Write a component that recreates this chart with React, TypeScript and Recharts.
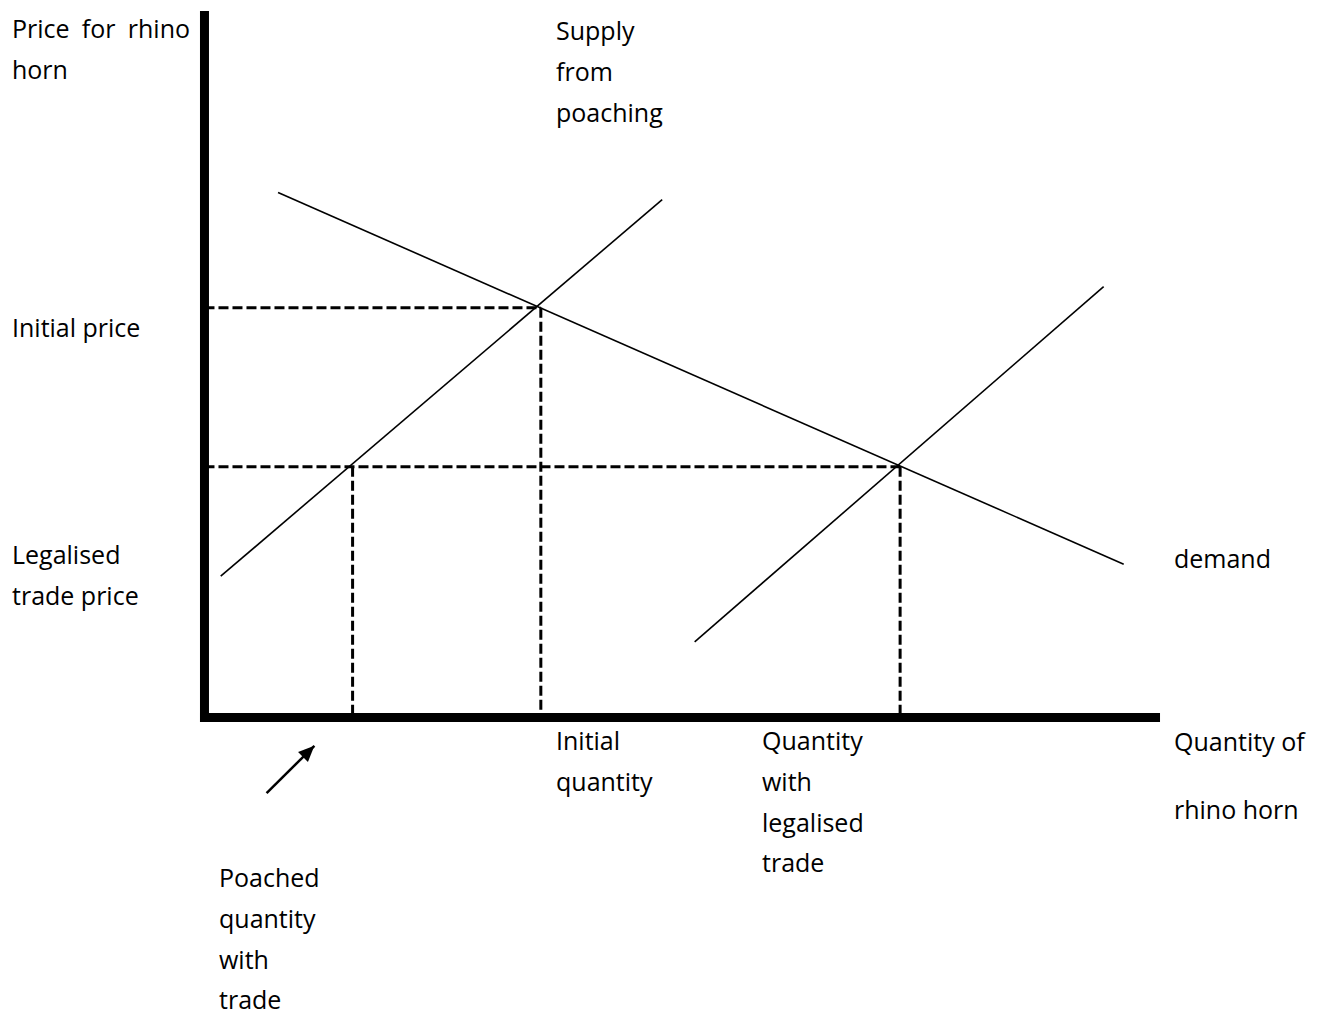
import React from 'react';
import { ComposedChart, Line, XAxis, YAxis, ReferenceLine } from 'recharts';

// ---- data (abstract quantity / price units, origin at the axes) ----
const demandQ = [7.7, 96.2];
const demandP = [74.3, 21.7];
const poachSupplyQ = [1.7, 47.9];
const poachSupplyP = [20.0, 73.3];
const legalSupplyQ = [51.3, 94.1];
const legalSupplyP = [10.7, 61.0];

const initialQuantity = 35.2;
const initialPrice = 58.0;
const legalisedQuantity = 72.8;
const legalisedPrice = 35.5;
const poachedQuantity = 15.5;

const arrowQ = [6.5, 11.5];
const arrowP = [-10.7, -4.0];

const axisMaxQ = 100;
const axisMaxP = 100;

const X_DOMAIN: [number, number] = [-21.4, 117.58];
const Y_DOMAIN: [number, number] = [-42.25, 101.56];

const W = 1328;
const H = 1016;

const toPts = (qs: number[], ps: number[]) => qs.map((q, i) => ({ q, p: ps[i] }));

const demand = toPts(demandQ, demandP);
const poachSupply = toPts(poachSupplyQ, poachSupplyP);
const legalSupply = toPts(legalSupplyQ, legalSupplyP);
const arrow = toPts(arrowQ, arrowP);

const FONT = '"Open Sans", sans-serif';

const labelStyle: React.CSSProperties = {
  position: 'absolute',
  fontFamily: FONT,
  fontSize: 25,
  lineHeight: '40.8px',
  color: '#000',
  whiteSpace: 'nowrap',
};

const ArrowHead = (props: any) => {
  const { cx, cy, index } = props;
  if (index !== arrow.length - 1 || cx == null) return <g key={`ah-${index}`} />;
  const dxPx = ((arrowQ[1] - arrowQ[0]) * W) / (X_DOMAIN[1] - X_DOMAIN[0]);
  const dyPx = (-(arrowP[1] - arrowP[0]) * H) / (Y_DOMAIN[1] - Y_DOMAIN[0]);
  const ang = (Math.atan2(dyPx, dxPx) * 180) / Math.PI;
  return (
    <polygon
      key={`ah-${index}`}
      points="0,0 -16,-7 -16,7"
      fill="#000"
      transform={`translate(${cx},${cy}) rotate(${ang})`}
    />
  );
};

const dashed = { stroke: '#000', strokeWidth: 3, strokeDasharray: '10 4', ifOverflow: 'visible' as const };

export default function App() {
  return (
    <div style={{ position: 'absolute', left: 0, top: 0, width: W, height: H, background: '#fff' }}>
      <ComposedChart width={W} height={H} margin={{ top: 0, right: 0, bottom: 0, left: 0 }}>
        <XAxis type="number" dataKey="q" domain={X_DOMAIN} allowDataOverflow hide />
        <YAxis type="number" dataKey="p" domain={Y_DOMAIN} allowDataOverflow hide />

        {/* dashed guide lines */}
        <ReferenceLine segment={[{ x: 0, y: initialPrice }, { x: initialQuantity, y: initialPrice }]} {...dashed} />
        <ReferenceLine segment={[{ x: 0, y: legalisedPrice }, { x: legalisedQuantity, y: legalisedPrice }]} {...dashed} />
        <ReferenceLine segment={[{ x: poachedQuantity, y: legalisedPrice }, { x: poachedQuantity, y: 0 }]} {...dashed} />
        <ReferenceLine segment={[{ x: initialQuantity, y: initialPrice }, { x: initialQuantity, y: 0 }]} {...dashed} />
        <ReferenceLine segment={[{ x: legalisedQuantity, y: legalisedPrice }, { x: legalisedQuantity, y: 0 }]} {...dashed} />

        {/* axes */}
        <ReferenceLine segment={[{ x: 0, y: -0.64 }, { x: 0, y: axisMaxP }]} stroke="#000" strokeWidth={9} ifOverflow="visible" />
        <ReferenceLine segment={[{ x: -0.47, y: 0 }, { x: axisMaxQ, y: 0 }]} stroke="#000" strokeWidth={9} ifOverflow="visible" />

        {/* curves */}
        <Line data={demand} dataKey="p" type="linear" stroke="#000" strokeWidth={1.6} dot={false} activeDot={false} isAnimationActive={false} />
        <Line data={poachSupply} dataKey="p" type="linear" stroke="#000" strokeWidth={1.6} dot={false} activeDot={false} isAnimationActive={false} />
        <Line data={legalSupply} dataKey="p" type="linear" stroke="#000" strokeWidth={1.6} dot={false} activeDot={false} isAnimationActive={false} />
        <Line data={arrow} dataKey="p" type="linear" stroke="#000" strokeWidth={2.5} dot={ArrowHead} activeDot={false} isAnimationActive={false} />
      </ComposedChart>

      <div style={{ ...labelStyle, left: 12, top: 8, width: 178, whiteSpace: 'normal', textAlign: 'justify' }}>
        Price for rhino horn
      </div>
      <div style={{ ...labelStyle, left: 556, top: 10 }}>Supply<br />from<br />poaching</div>
      <div style={{ ...labelStyle, left: 12, top: 307 }}>Initial price</div>
      <div style={{ ...labelStyle, left: 12, top: 534 }}>Legalised<br />trade price</div>
      <div style={{ ...labelStyle, left: 1174, top: 538 }}>demand</div>
      <div style={{ ...labelStyle, left: 556, top: 720 }}>Initial<br />quantity</div>
      <div style={{ ...labelStyle, left: 762, top: 720 }}>Quantity<br />with<br />legalised<br />trade</div>
      <div style={{ ...labelStyle, left: 1174, top: 721 }}>Quantity of</div>
      <div style={{ ...labelStyle, left: 1174, top: 789 }}>rhino horn</div>
      <div style={{ ...labelStyle, left: 219, top: 857 }}>Poached<br />quantity<br />with<br />trade</div>
    </div>
  );
}
